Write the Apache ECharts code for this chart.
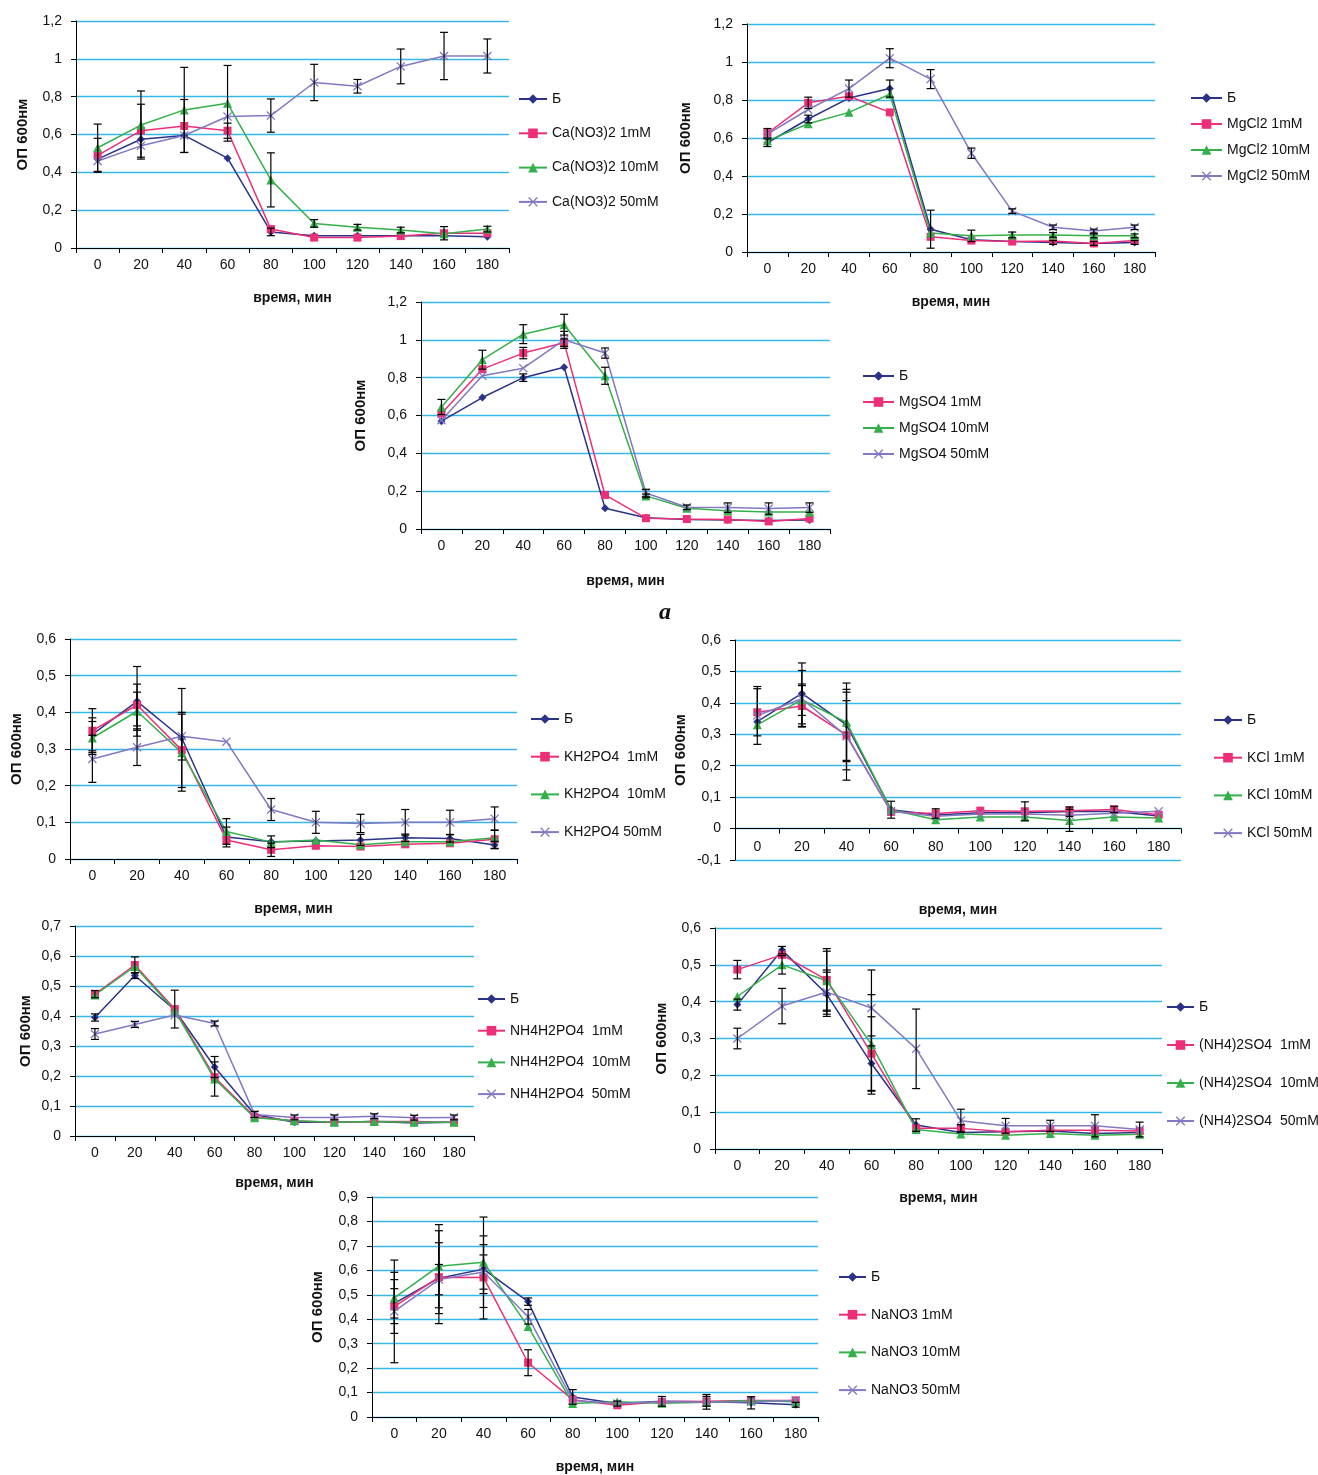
<!DOCTYPE html>
<html>
<head>
<meta charset="utf-8">
<script src="https://cdn.jsdelivr.net/npm/echarts@6/dist/echarts.min.js"></script>
<style>
  html, body { margin: 0; padding: 0; background: #fff; }
  #chart { width: 1318px; height: 1475px; }
</style>
</head>
<body>
<div id="chart"></div>
<script>
// Sampling times, minutes
const times = ['0', '20', '40', '60', '80', '100', '120', '140', '160', '180'];

// Ca(NO3)2
const caB   = [0.47, 0.575, 0.595, 0.475, 0.085, 0.065, 0.065, 0.065, 0.065, 0.06];
const ca1   = [0.49, 0.62, 0.645, 0.62, 0.10, 0.055, 0.055, 0.063, 0.078, 0.078];
const ca10  = [0.53, 0.65, 0.73, 0.765, 0.36, 0.13, 0.11, 0.095, 0.075, 0.10];
const ca50  = [0.46, 0.54, 0.595, 0.695, 0.70, 0.875, 0.855, 0.96, 1.015, 1.015];
const caErrB  = [0, 0, 0, 0, 0.02, 0, 0, 0, 0, 0];
const caErr1  = [0.09, 0.14, 0.14, 0.04, 0, 0, 0, 0, 0.035, 0];
const caErr10 = [0.125, 0.18, 0.225, 0.2, 0.143, 0.02, 0.015, 0.015, 0, 0.015];
const caErr50 = [0, 0, 0, 0, 0.088, 0.096, 0.036, 0.092, 0.125, 0.09];

// MgCl2
const mgclB  = [0.575, 0.70, 0.81, 0.86, 0.12, 0.065, 0.055, 0.05, 0.045, 0.05];
const mgcl1  = [0.625, 0.785, 0.82, 0.735, 0.08, 0.06, 0.055, 0.058, 0.045, 0.06];
const mgcl10 = [0.585, 0.675, 0.735, 0.83, 0.10, 0.085, 0.09, 0.09, 0.085, 0.085];
const mgcl50 = [0.62, 0.75, 0.86, 1.02, 0.91, 0.52, 0.215, 0.13, 0.11, 0.13];
const mgclErrB  = [0.02, 0.02, 0, 0.045, 0.1, 0, 0, 0.01, 0.01, 0.01];
const mgclErr1  = [0.025, 0.03, 0, 0, 0, 0, 0, 0, 0, 0];
const mgclErr10 = [0, 0, 0, 0, 0, 0.03, 0.015, 0.012, 0.01, 0.01];
const mgclErr50 = [0, 0, 0.045, 0.05, 0.05, 0.027, 0.012, 0.012, 0.01, 0.012];

// MgSO4
const mgsoB  = [0.57, 0.695, 0.80, 0.855, 0.11, 0.06, 0.05, 0.048, 0.045, 0.048];
const mgso1  = [0.61, 0.845, 0.93, 0.985, 0.18, 0.057, 0.053, 0.05, 0.04, 0.055];
const mgso10 = [0.645, 0.895, 1.03, 1.08, 0.81, 0.175, 0.11, 0.097, 0.09, 0.09];
const mgso50 = [0.575, 0.81, 0.85, 1.0, 0.93, 0.19, 0.115, 0.113, 0.108, 0.113];
const mgsoErrB  = [0, 0, 0.02, 0, 0, 0, 0, 0, 0, 0];
const mgsoErr1  = [0, 0, 0.03, 0.02, 0, 0, 0, 0, 0, 0];
const mgsoErr10 = [0.04, 0.05, 0.05, 0.055, 0.045, 0.01, 0, 0, 0, 0];
const mgsoErr50 = [0, 0, 0, 0.045, 0.027, 0.02, 0.012, 0.025, 0.03, 0.025];

// KH2PO4
const khB  = [0.34, 0.43, 0.33, 0.06, 0.047, 0.049, 0.052, 0.058, 0.056, 0.038];
const kh1  = [0.35, 0.42, 0.297, 0.052, 0.025, 0.036, 0.034, 0.04, 0.043, 0.054];
const kh10 = [0.33, 0.403, 0.29, 0.075, 0.046, 0.052, 0.039, 0.047, 0.047, 0.058];
const kh50 = [0.273, 0.305, 0.335, 0.32, 0.135, 0.10, 0.097, 0.10, 0.10, 0.11];
const khErrB  = [0.045, 0.095, 0.135, 0.027, 0.016, 0, 0.015, 0.01, 0.01, 0.01];
const khErr1  = [0.06, 0.057, 0, 0, 0.018, 0, 0, 0, 0, 0.025];
const khErr10 = [0.045, 0.052, 0.105, 0.035, 0, 0, 0, 0, 0, 0];
const khErr50 = [0.064, 0.05, 0.065, 0, 0.03, 0.03, 0.025, 0.035, 0.033, 0.032];

// KCl
const kclB  = [0.34, 0.43, 0.33, 0.06, 0.043, 0.05, 0.05, 0.054, 0.054, 0.04];
const kcl1  = [0.37, 0.39, 0.297, 0.053, 0.048, 0.057, 0.055, 0.057, 0.061, 0.044];
const kcl10 = [0.33, 0.41, 0.338, 0.06, 0.028, 0.037, 0.037, 0.026, 0.037, 0.034];
const kcl50 = [0.36, 0.413, 0.294, 0.055, 0.039, 0.046, 0.046, 0.042, 0.049, 0.055];
const kclErrB  = [0, 0.097, 0.113, 0.027, 0, 0, 0, 0.015, 0, 0];
const kclErr1  = [0.075, 0.065, 0.11, 0, 0.015, 0, 0.03, 0, 0.01, 0];
const kclErr10 = [0, 0.05, 0.125, 0, 0, 0, 0, 0.035, 0, 0];
const kclErr50 = [0.092, 0.09, 0.14, 0, 0, 0, 0, 0, 0, 0];

// NH4H2PO4
const nhpB  = [0.395, 0.535, 0.42, 0.23, 0.072, 0.046, 0.046, 0.048, 0.043, 0.046];
const nhp1  = [0.473, 0.57, 0.423, 0.196, 0.064, 0.05, 0.046, 0.048, 0.048, 0.046];
const nhp10 = [0.47, 0.565, 0.418, 0.19, 0.061, 0.051, 0.046, 0.048, 0.046, 0.046];
const nhp50 = [0.34, 0.372, 0.403, 0.375, 0.072, 0.062, 0.062, 0.066, 0.061, 0.062];
const nhpErrB  = [0.012, 0.01, 0, 0.035, 0.01, 0, 0, 0, 0, 0];
const nhpErr1  = [0.012, 0.027, 0.063, 0, 0, 0, 0, 0, 0, 0];
const nhpErr10 = [0, 0, 0, 0.057, 0, 0, 0, 0, 0, 0];
const nhpErr50 = [0.018, 0.01, 0, 0.008, 0, 0.008, 0.008, 0.008, 0.008, 0.008];

// (NH4)2SO4
const nhsB  = [0.392, 0.54, 0.42, 0.232, 0.065, 0.045, 0.047, 0.049, 0.042, 0.045];
const nhs1  = [0.487, 0.527, 0.459, 0.259, 0.056, 0.056, 0.047, 0.051, 0.051, 0.049];
const nhs10 = [0.414, 0.50, 0.457, 0.284, 0.053, 0.041, 0.037, 0.042, 0.037, 0.04];
const nhs50 = [0.30, 0.388, 0.426, 0.383, 0.272, 0.077, 0.063, 0.063, 0.063, 0.053];
const nhsErrB  = [0.015, 0.01, 0.06, 0.075, 0.017, 0, 0, 0, 0, 0];
const nhsErr1  = [0.025, 0, 0.085, 0.1, 0, 0.01, 0, 0, 0, 0];
const nhsErr10 = [0, 0.025, 0.08, 0.135, 0, 0, 0, 0, 0, 0];
const nhsErr50 = [0.028, 0.048, 0.06, 0.103, 0.108, 0.031, 0.02, 0.015, 0.03, 0.02];

// NaNO3
const naB  = [0.465, 0.568, 0.605, 0.472, 0.082, 0.055, 0.064, 0.062, 0.058, 0.05];
const na1  = [0.452, 0.572, 0.571, 0.222, 0.071, 0.048, 0.062, 0.064, 0.068, 0.068];
const na10 = [0.487, 0.617, 0.633, 0.37, 0.055, 0.062, 0.056, 0.06, 0.068, 0.062];
const na50 = [0.432, 0.562, 0.593, 0.41, 0.068, 0.055, 0.062, 0.06, 0.062, 0.068];
const naErrB  = [0.06, 0.145, 0.1, 0.015, 0.03, 0.01, 0.02, 0.03, 0.025, 0.01];
const naErr1  = [0.11, 0.19, 0.17, 0.053, 0, 0, 0, 0.02, 0, 0];
const naErr10 = [0.105, 0.17, 0.185, 0, 0, 0, 0, 0, 0, 0];
const naErr50 = [0.21, 0.062, 0.07, 0.03, 0, 0, 0, 0, 0, 0];

const FONT = "'Liberation Sans', Arial, sans-serif";
const COLORS = ['#2A3388', '#EC2F78', '#34B04A', '#8378C2'];
const CROSS = 'path://M0,1 L1,0 L5,4 L9,0 L10,1 L6,5 L10,9 L9,10 L5,6 L1,10 L0,9 L4,5 Z';
const SYMBOLS = ['diamond', 'rect', 'triangle', CROSS];
const SYMBOL_SIZES = [8, 8, 9, 9];

// One entry per panel: plot rectangle, value range, series and legend placement
// legend: [left, centre of first row, row pitch, icon width]
const panels = [
  { grid: [76, 21, 433, 227], min: 0, max: 1.2, step: 0.2, yGap: 46, xGap: 43, labelMargin: 10,
    names: ['Б', 'Ca(NO3)2 1mM', 'Ca(NO3)2 10mM', 'Ca(NO3)2 50mM'],
    values: [caB, ca1, ca10, ca50], errs: [caErrB, caErr1, caErr10, caErr50],
    legend: [518, 99, 34.3, 28] },
  { grid: [747, 24, 408, 228], min: 0, max: 1.2, step: 0.2, yGap: 54, xGap: 43, labelMargin: 10,
    names: ['Б', 'MgCl2 1mM', 'MgCl2 10mM', 'MgCl2 50mM'],
    values: [mgclB, mgcl1, mgcl10, mgcl50], errs: [mgclErrB, mgclErr1, mgclErr10, mgclErr50],
    legend: [1190, 98, 26, 31] },
  { grid: [421, 302, 409, 227], min: 0, max: 1.2, step: 0.2, yGap: 53, xGap: 45, labelMargin: 10,
    names: ['Б', 'MgSO4 1mM', 'MgSO4 10mM', 'MgSO4 50mM'],
    values: [mgsoB, mgso1, mgso10, mgso50], errs: [mgsoErrB, mgsoErr1, mgsoErr10, mgsoErr50],
    legend: [862, 376, 26, 31] },
  { grid: [70, 639, 447, 220], min: 0, max: 0.6, step: 0.1, yGap: 46, xGap: 43, labelMargin: 10,
    names: ['Б', 'KH2PO4  1mM', 'KH2PO4  10mM', 'KH2PO4 50mM'],
    values: [khB, kh1, kh10, kh50], errs: [khErrB, khErr1, khErr10, khErr50],
    legend: [530, 719, 37.7, 28] },
  { grid: [735, 640, 446, 220], min: -0.1, max: 0.6, step: 0.1, yGap: 47, xGap: 43, labelMargin: -20,
    names: ['Б', 'KCl 1mM', 'KCl 10mM', 'KCl 50mM'],
    values: [kclB, kcl1, kcl10, kcl50], errs: [kclErrB, kclErr1, kclErr10, kclErr50],
    legend: [1213, 720, 37.7, 28] },
  { grid: [75, 926, 399, 210], min: 0, max: 0.7, step: 0.1, yGap: 42, xGap: 40, labelMargin: 10,
    names: ['Б', 'NH4H2PO4  1mM', 'NH4H2PO4  10mM', 'NH4H2PO4  50mM'],
    values: [nhpB, nhp1, nhp10, nhp50], errs: [nhpErrB, nhpErr1, nhpErr10, nhpErr50],
    legend: [477, 999, 31.7, 27] },
  { grid: [715, 928, 447, 221], min: 0, max: 0.6, step: 0.1, yGap: 46, xGap: 42, labelMargin: 10,
    names: ['Б', '(NH4)2SO4  1mM', '(NH4)2SO4  10mM', '(NH4)2SO4  50mM'],
    values: [nhsB, nhs1, nhs10, nhs50], errs: [nhsErrB, nhsErr1, nhsErr10, nhsErr50],
    legend: [1166, 1007, 38, 27] },
  { grid: [372, 1197, 446, 220], min: 0, max: 0.9, step: 0.1, yGap: 47, xGap: 43, labelMargin: 10,
    names: ['Б', 'NaNO3 1mM', 'NaNO3 10mM', 'NaNO3 50mM'],
    values: [naB, na1, na10, na50], errs: [naErrB, naErr1, naErr10, naErr50],
    legend: [838, 1277, 37.7, 27] }
];

function fmtTick(v) {
  const r = Math.round(v * 10) / 10;
  return String(r).replace('.', ',');
}

// Vertical error bar with short caps at both ends
function renderErrorBar(params, api) {
  const i = api.value(0), m = api.value(1), e = api.value(2);
  const hi = api.coord([i, m + e]);
  const lo = api.coord([i, m - e]);
  const w = 4;
  const st = { stroke: '#000', lineWidth: 1.2 };
  return {
    type: 'group',
    children: [
      { type: 'line', shape: { x1: hi[0], y1: hi[1], x2: lo[0], y2: lo[1] }, style: st },
      { type: 'line', shape: { x1: hi[0] - w, y1: hi[1], x2: hi[0] + w, y2: hi[1] }, style: st },
      { type: 'line', shape: { x1: lo[0] - w, y1: lo[1], x2: lo[0] + w, y2: lo[1] }, style: st }
    ]
  };
}

const grids = [], xAxes = [], yAxes = [], series = [], legends = [];

panels.forEach((p, k) => {
  grids.push({ left: p.grid[0], top: p.grid[1], width: p.grid[2], height: p.grid[3], containLabel: false });
  xAxes.push({
    type: 'category', gridIndex: k, data: times, boundaryGap: true,
    name: 'время, мин', nameLocation: 'middle', nameGap: p.xGap,
    nameTextStyle: { fontFamily: FONT, fontSize: 14, fontWeight: 'bold', color: '#111' },
    axisLine: { show: true, lineStyle: { color: '#000', width: 1 } },
    axisTick: { show: true, length: 5, lineStyle: { color: '#000' } },
    axisLabel: { fontFamily: FONT, fontSize: 14, color: '#111', margin: p.labelMargin, interval: 0 },
    splitLine: { show: false }
  });
  yAxes.push({
    type: 'value', gridIndex: k, min: p.min, max: p.max, interval: p.step,
    name: 'ОП 600нм', nameLocation: 'middle', nameGap: p.yGap,
    nameTextStyle: { fontFamily: FONT, fontSize: 15, fontWeight: 'bold', color: '#111' },
    axisLine: { show: true, lineStyle: { color: '#000', width: 1 } },
    axisTick: { show: true, length: 5, lineStyle: { color: '#000' } },
    axisLabel: { fontFamily: FONT, fontSize: 14, color: '#111', margin: 14, formatter: fmtTick },
    splitLine: { show: true, lineStyle: { color: '#35B8E8', width: 1.4 } }
  });

  p.names.forEach((name, s) => {
    series.push({
      type: 'line', name: name, xAxisIndex: k, yAxisIndex: k,
      data: p.values[s],
      symbol: SYMBOLS[s], symbolSize: SYMBOL_SIZES[s],
      itemStyle: { color: COLORS[s] },
      lineStyle: { color: COLORS[s], width: 1.5 },
      z: 3, animation: false
    });
  });

  const errData = [];
  p.values.forEach((vals, s) => {
    vals.forEach((v, i) => {
      const e = p.errs[s][i];
      if (e > 0) errData.push([i, v, e]);
    });
  });
  series.push({
    type: 'custom', xAxisIndex: k, yAxisIndex: k,
    renderItem: renderErrorBar,
    data: errData, encode: { x: 0, y: 1 },
    z: 4, silent: true, animation: false
  });

  legends.push({
    orient: 'vertical', left: p.legend[0], top: p.legend[1] - 7, padding: 0,
    itemGap: p.legend[2] - 14, itemWidth: p.legend[3], itemHeight: 12,
    data: p.names, selectedMode: false,
    textStyle: { fontFamily: FONT, fontSize: 14, color: '#111' }
  });
});

const chart = echarts.init(document.getElementById('chart'), null, { renderer: 'canvas' });
chart.setOption({
  backgroundColor: '#fff',
  animation: false,
  grid: grids,
  xAxis: xAxes,
  yAxis: yAxes,
  legend: legends,
  series: series,
  graphic: [{
    type: 'text', left: 659, top: 601,
    style: { text: 'а', font: 'italic bold 24px "Liberation Serif", "DejaVu Serif", serif', fill: '#111' }
  }]
});
</script>
</body>
</html>
